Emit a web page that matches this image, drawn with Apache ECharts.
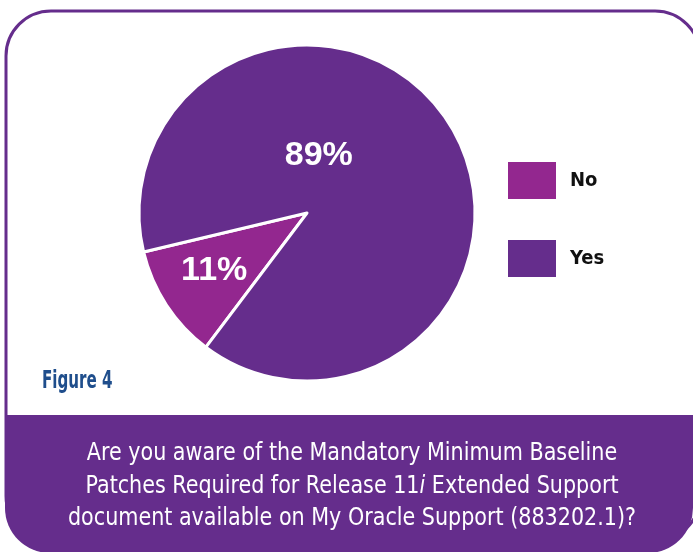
<!DOCTYPE html>
<html>
<head>
<meta charset="utf-8">
<script src="https://cdn.jsdelivr.net/npm/echarts@6/dist/echarts.min.js"></script>
<style>
  html, body { margin: 0; padding: 0; background: #fff; }
  #main { width: 693px; height: 552px; }
</style>
</head>
<body>
<div id="main"></div>
<script>
var categories = ['No', 'Yes'];
var values = [11, 89];
var colors = ['#93278f', '#652d8c'];
var labelOffsets = [[-20, 10], [-61, -10]];

var purple = '#652d8c';
var narrow = "'DejaVu Sans Condensed', 'Liberation Sans Narrow', sans-serif";

var myChart = echarts.init(document.getElementById('main'));

var pieData = [];
for (var i = 0; i < categories.length; i++) {
    pieData.push({
        name: categories[i],
        value: values[i],
        itemStyle: { color: colors[i] },
        label: { offset: labelOffsets[i] }
    });
}

option = {
    animation: false,
    backgroundColor: '#fff',
    legend: {
        orient: 'vertical',
        left: 506,
        top: 160,
        padding: 0,
        itemWidth: 50,
        itemHeight: 39,
        itemGap: 37,
        icon: 'rect',
        data: categories,
        textStyle: {
            fontFamily: narrow,
            fontWeight: 'bold',
            fontSize: 20,
            color: '#111',
            padding: [0, 0, 0, 8]
        }
    },
    graphic: [
        {
            type: 'rect',
            z: -1,
            shape: { x: 6, y: 11, width: 694, height: 530, r: 45 },
            style: { fill: 'none', stroke: purple, lineWidth: 3 }
        },
        {
            type: 'rect',
            z: 1,
            shape: { x: 5, y: 415, width: 688, height: 138, r: [0, 0, 45, 45] },
            style: { fill: purple }
        },
        {
            type: 'text',
            z: 2,
            x: 42,
            y: 382,
            scaleX: 0.7,
            style: {
                text: 'Figure 4',
                align: 'left',
                verticalAlign: 'middle',
                fontFamily: narrow,
                fontWeight: 'bold',
                fontSize: 24,
                fill: '#1f4e8c'
            }
        },
        {
            type: 'text',
            z: 2,
            x: 352,
            y: 486,
            scaleX: 0.92,
            style: {
                text: 'Are you aware of the Mandatory Minimum Baseline\nPatches Required for Release 11{i|i} Extended Support\ndocument available on My Oracle Support (883202.1)?',
                align: 'center',
                verticalAlign: 'middle',
                lineHeight: 32.5,
                fontFamily: narrow,
                fontSize: 25,
                fill: '#fff',
                rich: {
                    i: {
                        fontFamily: narrow,
                        fontSize: 25,
                        fontStyle: 'italic',
                        fill: '#fff'
                    }
                }
            }
        }
    ],
    series: [{
        type: 'pie',
        center: [307, 213],
        radius: [0, 168],
        startAngle: 233,
        clockwise: true,
        data: pieData,
        itemStyle: { borderColor: '#fff', borderWidth: 3 },
        label: {
            position: 'inside',
            formatter: '{c}%',
            color: '#fff',
            fontFamily: "'Liberation Sans', Arial, sans-serif",
            fontWeight: 'bold',
            fontSize: 34
        },
        labelLine: { show: false },
        emphasis: { disabled: true }
    }]
};
myChart.setOption(option);
</script>
</body>
</html>
